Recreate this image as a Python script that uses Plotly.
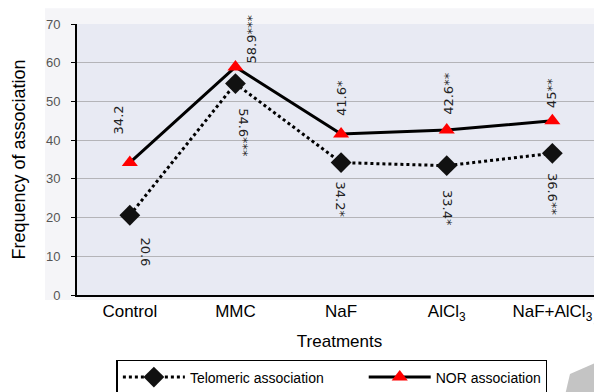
import plotly.graph_objects as go

categories = ["Control", "MMC", "NaF", "AlCl<sub>3</sub>", "NaF+AlCl<sub>3</sub>"]
telomeric = [20.6, 54.6, 34.2, 33.4, 36.6]
nor = [34.2, 58.9, 41.6, 42.6, 45.0]
telomeric_labels = ["20.6", "54.6***", "34.2*", "33.4*", "36.6**"]
nor_labels = ["34.2", "58.9***", "41.6*", "42.6**", "45**"]
y_ticks = [0, 10, 20, 30, 40, 50, 60, 70]
series_names = ["Telomeric association", "NOR association"]

xs = list(range(len(categories)))
PAD = "\u00a0" * 9  # spacing between legend entries

fig = go.Figure()
fig.add_trace(go.Scatter(
    x=xs, y=telomeric, mode="lines+markers", name=series_names[0] + PAD,
    line=dict(color="black", width=3, dash="dot"),
    marker=dict(symbol="diamond", size=16, color="#111111"),
))
fig.add_trace(go.Scatter(
    x=xs, y=nor, mode="lines+markers", name=series_names[1],
    line=dict(color="black", width=3),
    marker=dict(symbol="triangle-up", size=14, color="#ff0000"),
))

# label offsets (pixels) - styling
tel_shift = [(16, -37), (8, -49), (-1, -37), (1, -42), (0, -41)]
nor_shift = [(-11, 43), (17, 28), (1, 36), (1, 36), (-1, 28)]

for i in xs:
    dx, dy = tel_shift[i]
    fig.add_annotation(x=xs[i], y=telomeric[i], text=telomeric_labels[i], showarrow=False,
                       textangle=90, xshift=dx, yshift=dy,
                       font=dict(family="DejaVu Sans", size=13, color="#222222"))
    dx, dy = nor_shift[i]
    fig.add_annotation(x=xs[i], y=nor[i], text=nor_labels[i], showarrow=False,
                       textangle=-90, xshift=dx, yshift=dy,
                       font=dict(family="DejaVu Sans", size=13, color="#222222"))

PLOT_BOTTOM = 0.2636  # y-domain bottom in paper units

# background panels and decorative grey slivers (paper coordinates)
fig.add_shape(type="rect", xref="paper", yref="paper", x0=-0.061, x1=1.02, y0=0.25, y1=1.043,
              fillcolor="#f5f5f8", line_width=0, layer="below")
fig.add_shape(type="rect", xref="paper", yref="paper", x0=0, x1=1.02, y0=PLOT_BOTTOM, y1=1,
              fillcolor="#e8eaf3", line_width=0, layer="below")
fig.add_shape(type="path", xref="paper", yref="paper",
              path="M0.984,0.185L1.0,0.234L1.0,0.168Z",
              fillcolor="#c4c4c4", line=dict(width=0), layer="above")
fig.add_shape(type="path", xref="paper", yref="paper",
              path="M0.931,0L0.939,0.049L1.0,0.087L1.0,0Z",
              fillcolor="#c4c4c4", line=dict(width=0), layer="above")

fig.update_layout(
    width=594, height=384,
    margin=dict(l=69, r=0, t=16, b=0, autoexpand=False),
    paper_bgcolor="white",
    plot_bgcolor="rgba(0,0,0,0)",
    font=dict(family="Liberation Sans, Arial, sans-serif", color="black"),
    showlegend=True,
    legend=dict(orientation="h", x=0.075, xanchor="left", y=0.087, yanchor="top",
                bgcolor="white", bordercolor="black", borderwidth=1.5,
                font=dict(size=14, color="black"), itemwidth=62,
                traceorder="normal"),
)
fig.update_xaxes(
    range=[-0.5, 4.47], tickmode="array", tickvals=xs, ticktext=categories,
    showgrid=False, zeroline=False, showline=True, linecolor="black", linewidth=2,
    tickfont=dict(size=17, color="black"), ticks="",
    title=dict(text="Treatments", font=dict(size=17, color="black"), standoff=12),
)
fig.update_yaxes(
    domain=[PLOT_BOTTOM, 1],
    range=[0, 70], tickvals=y_ticks, showgrid=True, gridcolor="#b4b4b8", gridwidth=1,
    zeroline=False, showline=True, linecolor="black", linewidth=2,
    ticks="outside", ticklen=4, tickcolor="black", ticklabelstandoff=8,
    tickfont=dict(size=13, color="#555555"),
    title=dict(text="Frequency of association", font=dict(size=18, color="black"), standoff=16),
)

fig.write_html("out.html")
